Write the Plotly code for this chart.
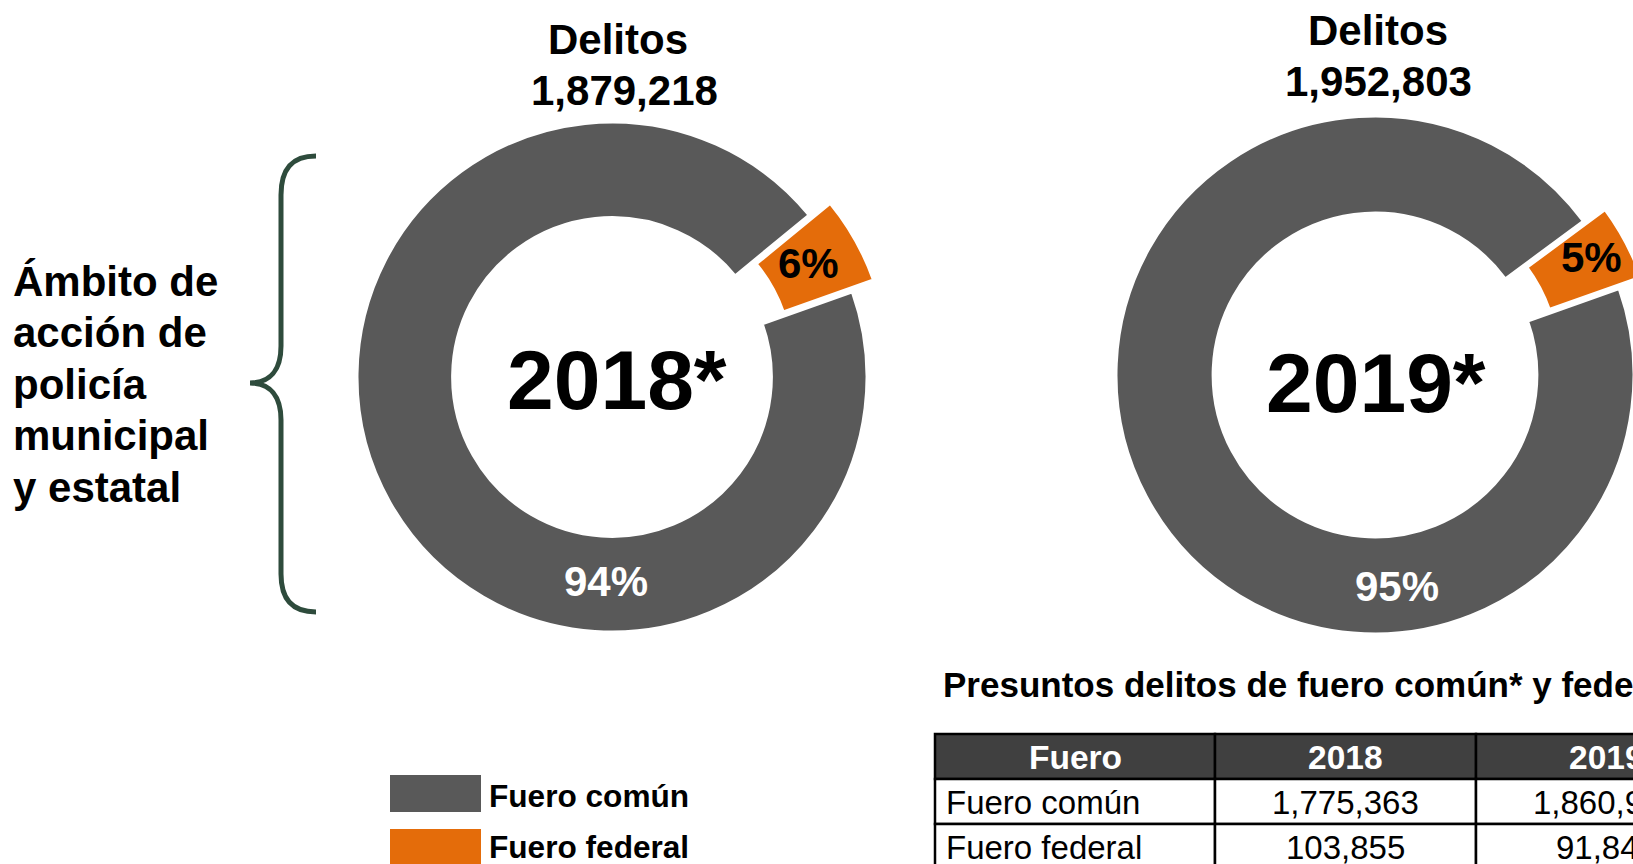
import plotly.graph_objects as go

# ---------------- data ----------------
years = ["2018", "2019"]
fueros = ["Fuero común", "Fuero federal"]
comun = [1775363, 1860960]
federal = [103855, 91843]
table_title = "Presuntos delitos de fuero común* y federal"
table_header = ["Fuero"] + years
side_label = ["Ámbito de", "acción de", "policía", "municipal", "y estatal"]

# ---------------- style ----------------
W, H = 1760, 864
GRAY = "#595959"
ORANGE = "#E46C0A"
BRACE = "#2E4B3C"
HEAD = "#404040"
FONT = "Liberation Sans, Arial, sans-serif"

# donut geometry (pixels): centre x, centre y, outer radius
donuts = [
    dict(cx=612, cy=377, R=255),
    dict(cx=1375, cy=375, R=259),
]
PULL = 0.095
HOLE = 0.625
ROTATION = 70.5


def domain_for(cx, cy, R):
    half = R * (1 + PULL)
    return dict(x=[(cx - half) / W, (cx + half) / W],
                y=[1 - (cy + half) / H, 1 - (cy - half) / H])


fig = go.Figure()

# invisible pixel-space axes for shapes / annotations
fig.add_trace(go.Scatter(x=[], y=[], showlegend=False, hoverinfo="skip"))

for i, yr in enumerate(years):
    g = donuts[i]
    fig.add_trace(go.Pie(
        labels=fueros,
        values=[comun[i], federal[i]],
        sort=False,
        direction="clockwise",
        rotation=ROTATION,
        hole=HOLE,
        pull=[0, PULL],
        marker=dict(colors=[GRAY, ORANGE], line=dict(color="white", width=3)),
        textinfo="none",
        hoverinfo="label+value+percent",
        showlegend=False,
        domain=domain_for(g["cx"], g["cy"], g["R"]),
    ))

annotations = []


def txt(x, y, text, size, color="black", xanchor="center", bold=True):
    annotations.append(dict(
        x=x, y=y, xref="x", yref="y", xanchor=xanchor, yanchor="middle",
        text=f"<b>{text}</b>" if bold else text, showarrow=False,
        font=dict(family=FONT, size=size, color=color)))


# pie labels
label_pos = [
    dict(t1=(618, 39), t2=(624, 90), year=(617, 380), big=(606, 581), small=(808, 263)),
    dict(t1=(1378, 30), t2=(1378, 81), year=(1376, 383), big=(1397, 586), small=(1591, 257)),
]
for i, yr in enumerate(years):
    total = comun[i] + federal[i]
    p = label_pos[i]
    txt(*p["t1"], "Delitos", 42)
    txt(*p["t2"], f"{total:,}", 42)
    txt(*p["year"], f"{yr}*", 84)
    txt(*p["big"], f"{round(100 * comun[i] / total)}%", 42, color="white")
    txt(*p["small"], f"{round(100 * federal[i] / total)}%", 42)

# side label
for k, line in enumerate(side_label):
    txt(11, 384 + (k - 2) * 51.5, line, 42, xanchor="left")

# table title
txt(941, 684, table_title, 35, xanchor="left")

# legend
legend_rows = [(fueros[0], GRAY, 775, 812, 796), (fueros[1], ORANGE, 829, 866, 847)]
shapes = []
for name, col, y0, y1, ty in legend_rows:
    shapes.append(dict(type="rect", xref="x", yref="y", x0=390, x1=481, y0=y0, y1=y1,
                       fillcolor=col, line=dict(width=0)))
    txt(487, ty, name, 31.6, xanchor="left")

# curly brace
shapes.append(dict(
    type="path", xref="x", yref="y",
    path=("M 316,156 C 291,156 281,170 281,195 L 281,346 "
          "C 281,370 270,383 250,383 C 270,383 281,396 281,420 "
          "L 281,574 C 281,598 291,612 316,612"),
    line=dict(color=BRACE, width=5)))

# table (drawn cell by cell)
col_edges = [935, 1215, 1476, 1737]
row_edges = [734, 779, 824, 869]
rows = [table_header] + [[fueros[j], f"{comun[0] if j == 0 else federal[0]:,}",
                          f"{comun[1] if j == 0 else federal[1]:,}"] for j in range(2)]
for r, row in enumerate(rows):
    y0, y1 = row_edges[r], row_edges[r + 1]
    for c, val in enumerate(row):
        x0, x1 = col_edges[c], col_edges[c + 1]
        shapes.append(dict(type="rect", xref="x", yref="y", x0=x0, x1=x1, y0=y0, y1=y1,
                           fillcolor=HEAD if r == 0 else "white",
                           line=dict(color="black", width=2.5)))
        if r == 0:
            txt((x0 + x1) / 2, (y0 + y1) / 2 + 1, val, 33.5, color="white")
        elif c == 0:
            txt(x0 + 9, (y0 + y1) / 2 + 1, val, 33, xanchor="left", bold=False)
        else:
            txt((x0 + x1) / 2, (y0 + y1) / 2 + 1, val, 33, bold=False)

fig.update_layout(
    width=W, height=H,
    margin=dict(l=0, r=0, t=0, b=0),
    paper_bgcolor="white", plot_bgcolor="white",
    xaxis=dict(range=[0, W], visible=False, fixedrange=True, domain=[0, 1]),
    yaxis=dict(range=[H, 0], visible=False, fixedrange=True, domain=[0, 1]),
    annotations=annotations,
    shapes=shapes,
    showlegend=False,
)

fig.write_html(
    "out.html",
    config={"displayModeBar": False},
    post_script="document.body.style.margin='0';document.body.style.overflow='hidden';",
)
